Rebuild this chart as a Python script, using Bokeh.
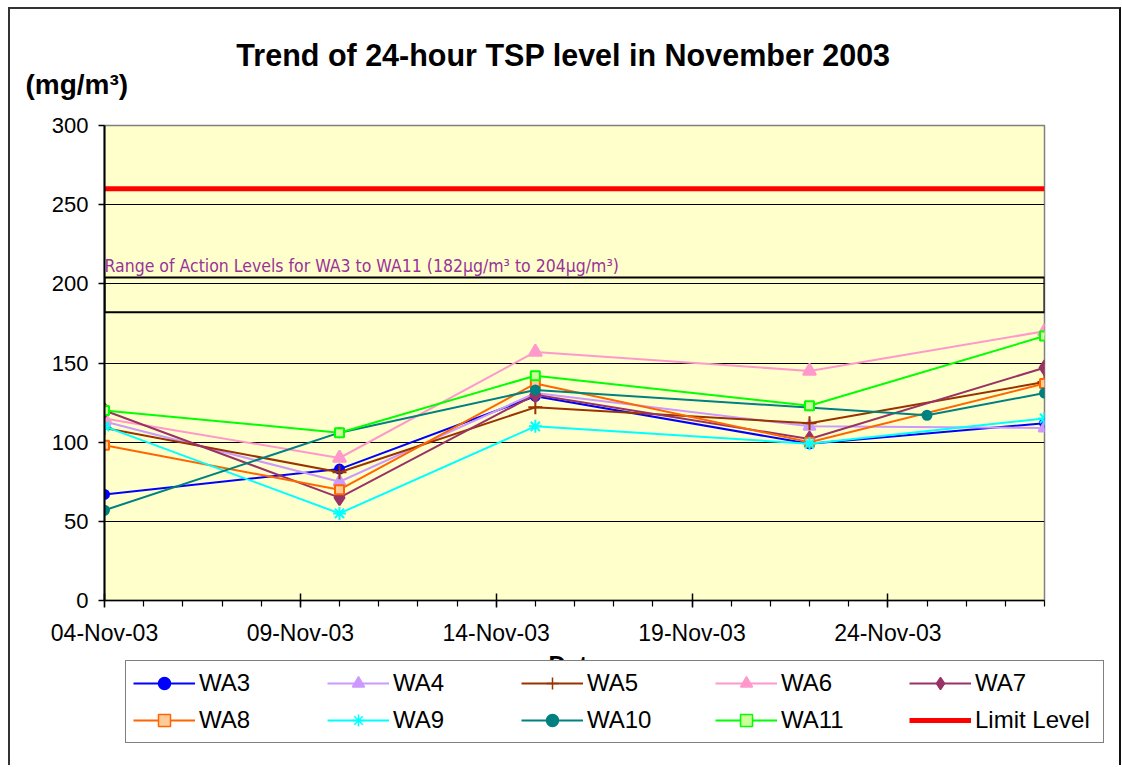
import pandas as pd
from bokeh.plotting import figure
from bokeh.layouts import column
from bokeh.models import (Range1d, FixedTicker, Legend, LegendItem, Label, ColumnDataSource)
from bokeh.embed import file_html
from bokeh.resources import INLINE

# ---------------- data ----------------
DATES = ["2003-11-04", "2003-11-10", "2003-11-15", "2003-11-22", "2003-11-28"]
WA10_DATES = ["2003-11-04", "2003-11-10", "2003-11-15", "2003-11-25", "2003-11-28"]

WA3 = [67, 83, 129, 99, 112]
WA4 = [113, 75, 131, 110, 109]
WA5 = [109, 81, 122, 112, 138]
WA6 = [115, 90, 157, 145, 170]
WA7 = [120, 65, 130, 102, 147]
WA8 = [98, 70, 137, 100, 137]
WA9 = [110, 55, 110, 99, 115]
WA10 = [57, 106, 133, 117, 131]
WA11 = [120, 106, 142, 123, 167]

LIMIT_LEVEL = 260
ACTION_LOW = 182
ACTION_HIGH = 204

X_START = "2003-11-04"
X_END = "2003-11-28"
MAJOR_TICKS = ["2003-11-04", "2003-11-09", "2003-11-14", "2003-11-19", "2003-11-24"]
MAJOR_LABELS = ["04-Nov-03", "09-Nov-03", "14-Nov-03", "19-Nov-03", "24-Nov-03"]
Y_TICKS = [0, 50, 100, 150, 200, 250, 300]

FONT = "Liberation Sans"


def ms(d):
    return pd.Timestamp(d).value // 10**6


def blank_strip(height, styles):
    f = figure(width=1113, height=height, output_backend="svg", toolbar_location=None,
               x_range=Range1d(0, 1), y_range=Range1d(0, 1),
               x_axis_location=None, y_axis_location=None, min_border=0)
    f.frame_align = False
    f.title_location = None
    f.styles = styles
    f.grid.visible = False
    f.outline_line_color = None
    f.background_fill_color = "white"
    f.border_fill_color = "white"
    return f


x0, x1 = ms(X_START), ms(X_END)

# ---------------- title strip ----------------
p0 = blank_strip(104, {"border-left": "2px solid #333", "border-top": "2px solid #333",
                       "border-right": "2px solid #111", "margin-left": "8px",
                       "margin-top": "7px"})
p0.add_layout(Label(x=553, y=59, x_units="screen", y_units="screen",
                    text="Trend of 24-hour TSP level in November 2003",
                    text_font=FONT, text_font_style="bold", text_font_size="30.5px",
                    text_align="center", text_baseline="middle", text_color="black"))
p0.add_layout(Label(x=15, y=29, x_units="screen", y_units="screen",
                    text="(mg/m³)",
                    text_font=FONT, text_font_style="bold", text_font_size="28px",
                    text_align="left", text_baseline="middle", text_color="black"))

# ---------------- main chart ----------------
p = figure(width=1113, height=539, output_backend="svg", toolbar_location=None,
           x_axis_type="datetime",
           x_range=Range1d(x0, x1), y_range=Range1d(0, 300),
           min_border_left=94, min_border_right=79, min_border_top=14, min_border_bottom=50)
p.frame_align = False
p.title_location = None
p.styles = {"border-left": "2px solid #333", "border-right": "2px solid #111",
            "margin-left": "8px"}

p.border_fill_color = "white"
p.background_fill_color = "#FFFFCC"
p.outline_line_color = "#808080"
p.outline_line_width = 1.5

p.xgrid.visible = False
p.ygrid.grid_line_color = "black"
p.ygrid.grid_line_width = 1.2
p.yaxis.ticker = FixedTicker(ticks=Y_TICKS)
p.yaxis.axis_line_color = "black"
p.yaxis.axis_line_width = 2
p.yaxis.major_tick_in = 0
p.yaxis.major_tick_out = 6
p.yaxis.major_tick_line_width = 1.5
p.yaxis.minor_tick_line_color = None
p.yaxis.major_label_text_font = FONT
p.yaxis.major_label_text_font_size = "22px"
p.yaxis.major_label_text_color = "black"
p.yaxis.major_label_standoff = 10

tick_ms = [ms(d) for d in MAJOR_TICKS]
minor_ms = [ms(d) for d in pd.date_range(X_START, X_END, freq="D")]
p.xaxis.ticker = FixedTicker(ticks=tick_ms, minor_ticks=minor_ms)
p.xaxis.major_label_overrides = {t: lab for t, lab in zip(tick_ms, MAJOR_LABELS)}
p.xaxis.axis_line_color = "black"
p.xaxis.axis_line_width = 1.5
p.xaxis.major_tick_in = 7
p.xaxis.major_tick_out = 7
p.xaxis.major_tick_line_width = 1.5
p.xaxis.minor_tick_in = 0
p.xaxis.minor_tick_out = 6
p.xaxis.minor_tick_line_width = 1.2
p.xaxis.minor_tick_line_color = "black"
p.xaxis.major_label_text_font = FONT
p.xaxis.major_label_text_font_size = "23px"
p.xaxis.major_label_text_color = "black"
p.xaxis.major_label_standoff = 12

# action level box
p.quad(left=[ms(X_START)], right=[ms(X_END)], bottom=[ACTION_LOW], top=[ACTION_HIGH],
       fill_color=None, line_color="black", line_width=2)

# limit line
p.line([ms(X_START), ms(X_END)], [LIMIT_LEVEL, LIMIT_LEVEL], line_color="#FF0000", line_width=5)

series = [
    ("WA3", DATES, WA3, "#0000FF", "circle", 9, "#0000FF"),
    ("WA4", DATES, WA4, "#CC99FF", "triangle", 12, "#CC99FF"),
    ("WA5", DATES, WA5, "#993300", "cross", 14, "#993300"),
    ("WA6", DATES, WA6, "#FF99CC", "triangle", 13, "#FF99CC"),
    ("WA7", DATES, WA7, "#993366", "diamond", 15, "#993366"),
    ("WA8", DATES, WA8, "#FF6600", "square", 9, "#FFCC99"),
    ("WA9", DATES, WA9, "#00FFFF", "asterisk", 13, "#00FFFF"),
    ("WA10", WA10_DATES, WA10, "#008080", "circle", 9, "#008080"),
    ("WA11", DATES, WA11, "#00FF00", "square", 9, "#CCFF99"),
]

for name, dts, vals, col, mk, sz, fill in series:
    src = ColumnDataSource(dict(x=[ms(d) for d in dts], y=vals))
    p.line("x", "y", source=src, line_color=col, line_width=2)
    p.scatter("x", "y", source=src, marker=mk, size=sz, line_color=col,
              fill_color=fill, line_width=2)

p.add_layout(Label(x=ms(X_START), y=ACTION_HIGH + 1, x_units="data", y_units="data",
                   text="Range of Action Levels for WA3 to WA11 (182µg/m³ to 204µg/m³)",
                   text_font="'Liberation Sans Narrow', 'DejaVu Sans Condensed', sans-serif",
                   text_font_size="17.5px",
                   text_align="left", text_baseline="bottom", text_color="#993399"))

# ---------------- legend strip (below the chart) ----------------
p2 = blank_strip(115, {"border-left": "2px solid #333", "border-right": "2px solid #111",
                       "margin-left": "8px"})

# x-axis title, mostly hidden by the legend as in the original
p2.add_layout(Label(x=564, y=115, x_units="screen", y_units="screen", text="Date",
                    text_font=FONT, text_font_style="bold", text_font_size="24px",
                    text_align="center", text_baseline="top", text_color="black"))

# legend glyphs: the same series, drawn in this strip outside its visible range
legend_items = []
for name, dts, vals, col, mk, sz, fill in series:
    src = ColumnDataSource(dict(x=[ms(d) for d in dts], y=vals))
    r1 = p2.line("x", "y", source=src, line_color=col, line_width=2)
    r2 = p2.scatter("x", "y", source=src, marker=mk, size=round(sz * 0.75), line_color=col,
                    fill_color=fill, line_width=1.5)
    legend_items.append(LegendItem(label=name, renderers=[r1, r2]))
r_lim = p2.line([ms(X_START), ms(X_END)], [LIMIT_LEVEL, LIMIT_LEVEL],
                line_color="#FF0000", line_width=5)
legend_items.append(LegendItem(label="Limit Level", renderers=[r_lim]))

legend = Legend(items=legend_items, orientation="horizontal", nrows=2,
                location=(115, 22))
legend.label_text_font = FONT
legend.label_text_font_size = "24px"
legend.label_text_color = "black"
legend.glyph_width = 62
legend.glyph_height = 30
legend.label_height = 30
legend.label_width = 121
legend.label_standoff = 4
legend.spacing = 7
legend.padding = 7
legend.margin = 0
legend.border_line_color = "black"
legend.border_line_width = 1.5
legend.background_fill_color = "white"
legend.background_fill_alpha = 1
p2.add_layout(legend, "center")

layout = column(p0, p, p2, spacing=0)
open("out.html", "w").write(file_html(layout, INLINE))
